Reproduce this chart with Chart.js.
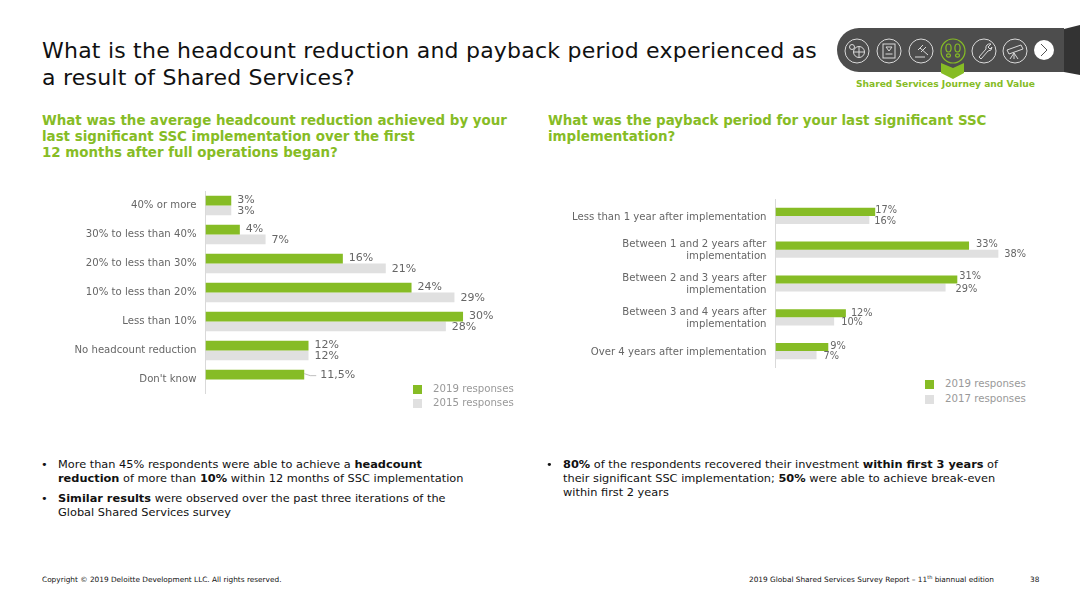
<!DOCTYPE html>
<html>
<head>
<meta charset="utf-8">
<script src="https://cdn.jsdelivr.net/npm/chart.js@4"></script>
<style>
    html, body { margin: 0; padding: 0; background: #fff; }
    body { width: 1080px; height: 608px; position: relative; overflow: hidden; font-family: "DejaVu Sans", sans-serif; color: #000; }
    .abs { position: absolute; }
    .title { left: 42px; top: 37px; font-size: 22px; line-height: 27px; letter-spacing: 0.22px; white-space: nowrap; color: #111; }
    .sub { font-size: 13.4px; line-height: 16px; font-weight: bold; color: #86BC25; white-space: nowrap; }
    .bul { font-size: 11.35px; line-height: 14px; white-space: nowrap; color: #111; }
    .bul .dot { position: absolute; left: -17px; }
    .leg { font-size: 10.2px; color: #999; white-space: nowrap; line-height: 14px; }
    .leg i { position: absolute; left: -20px; top: 3px; width: 9px; height: 9px; }
    .foot { font-size: 7.35px; line-height: 10px; white-space: nowrap; color: #111; }
    .foot sup { font-size: 5px; line-height: 0; }
</style>
</head>
<body>
<div class="abs title">What is the headcount reduction and payback period experienced as<br>a result of Shared Services?</div>

<svg class="abs" style="left:830px;top:20px" width="250" height="70" viewBox="830 20 250 70">
    <path d="M859 28 H1064 V72 H859 A22 22 0 0 1 859 28 Z" fill="#4D4D4D"/>
    <path d="M1064 29 L1080 25 V75 L1064 72 Z" fill="#333"/>
    <g fill="none" stroke="#D9D9D9" stroke-width="1">
        <circle cx="857" cy="51" r="12"/><circle cx="889" cy="51" r="12"/><circle cx="921" cy="51" r="12"/>
        <circle cx="984" cy="51" r="12"/><circle cx="1015" cy="51" r="12"/>
        <circle cx="859" cy="52" r="5.5"/><path d="M853.5 52 H864.5 M859 46.5 V57.5"/><circle cx="852" cy="47" r="2.5"/>
        <rect x="883" y="44" width="12" height="14"/><path d="M886 47 H892 L889 51 Z M885.5 54 H892.5"/>
        <path d="M915 57 H925 M918 50 L923 45 M921 52 L926 47 M920 48 L928 55"/>
        <path d="M979 57 L986 49 A4 4 0 0 1 991 44 L988 47 L990 49 L992 47 A4 4 0 0 1 988 51 L981 59 Z"/>
        <path d="M1007 50 L1021 45 L1023 49 L1009 54 Z M1014 53 L1010 59 M1014 53 L1018 59 M1014 53 V59"/>
    </g>
    <g fill="none" stroke="#86BC25" stroke-width="1.2">
        <circle cx="953" cy="51" r="12"/>
        <ellipse cx="948.5" cy="48" rx="2.6" ry="4"/><ellipse cx="957.5" cy="48" rx="2.6" ry="4"/>
        <ellipse cx="948.5" cy="55.5" rx="2" ry="1.6"/><ellipse cx="957.5" cy="55.5" rx="2" ry="1.6"/>
    </g>
    <path d="M941 63 L953 68 L964 63 V73 L953 79 L941 73 Z" fill="#86BC25"/>
    <circle cx="1044" cy="50" r="10" fill="#fff"/>
    <path d="M1041 44 L1047 50 L1041 56" fill="none" stroke="#555" stroke-width="1"/>
</svg>
<div class="abs" style="left:856px;top:79px;font-size:9.1px;line-height:11px;font-weight:bold;color:#86BC25;white-space:nowrap">Shared Services Journey and Value</div>

<div class="abs sub" style="left:42px;top:113px">What was the average headcount reduction achieved by your<br>last significant SSC implementation over the first<br>12 months after full operations began?</div>
<div class="abs sub" style="left:548px;top:113px">What was the payback period for your last significant SSC<br>implementation?</div>

<canvas id="reductionChart" class="abs" style="left:30px;top:191px;width:500px;height:203px"></canvas>
<canvas id="paybackChart" class="abs" style="left:540px;top:199px;width:500px;height:169px"></canvas>

<div class="abs leg" style="left:433px;top:382px"><i style="background:#86BC25"></i>2019 responses</div>
<div class="abs leg" style="left:433px;top:396px"><i style="background:#E0E0E0"></i>2015 responses</div>
<div class="abs leg" style="left:945px;top:377px"><i style="background:#86BC25"></i>2019 responses</div>
<div class="abs leg" style="left:945px;top:392px"><i style="background:#E0E0E0"></i>2017 responses</div>

<div class="abs bul" style="left:58px;top:457px"><span class="dot">•</span>More than 45% respondents were able to achieve a <b>headcount<br>reduction</b> of more than <b>10%</b> within 12 months of SSC implementation</div>
<div class="abs bul" style="left:58px;top:491px"><span class="dot">•</span><b>Similar results</b> were observed over the past three iterations of the<br>Global Shared Services survey</div>
<div class="abs bul" style="left:563px;top:457px"><span class="dot">•</span><b>80%</b> of the respondents recovered their investment <b>within first 3 years</b> of<br>their significant SSC implementation; <b>50%</b> were able to achieve break-even<br>within first 2 years</div>

<div class="abs foot" style="left:42px;top:575px">Copyright © 2019 Deloitte Development LLC. All rights reserved.</div>
<div class="abs foot" style="left:749px;top:575px">2019 Global Shared Services Survey Report – 11<sup>th</sup> biannual edition</div>
<div class="abs foot" style="left:1030px;top:575px">38</div>

<script>
const reductionCategories = ['40% or more', '30% to less than 40%', '20% to less than 30%', '10% to less than 20%', 'Less than 10%', 'No headcount reduction', "Don't know"];
const reduction2019 = [3, 4, 16, 24, 30, 12, 11.5];
const reduction2015 = [3, 7, 21, 29, 28, 12, null];

const paybackCategories = ['Less than 1 year after implementation', ['Between 1 and 2 years after', 'implementation'], ['Between 2 and 3 years after', 'implementation'], ['Between 3 and 4 years after', 'implementation'], 'Over 4 years after implementation'];
const payback2019 = [17, 33, 31, 12, 9];
const payback2017 = [16, 38, 29, 10, 7];

const GREEN = '#86BC25';
const GREY = '#E0E0E0';
const FONT = '"DejaVu Sans", sans-serif';

// hand placed label tweaks on the payback chart, [dx, dy] per dataset and bar
const paybackLabelNudge = [
    [[0, -1], [7, -1], [2, -3], [5, 0], [2, -1]],
    [[5, 1], [6, 1], [10, 2], [7, 1], [7, 1]]
];

// draws the value next to each bar, Don't know gets a small leader line
function barLabels(fontSize, nudge) {
    return {
        id: 'barLabels',
        afterDatasetsDraw(chart) {
            const ctx = chart.ctx;
            ctx.save();
            ctx.font = fontSize + 'px ' + FONT;
            ctx.fillStyle = '#666';
            ctx.textBaseline = 'middle';
            chart.data.datasets.forEach((ds, i) => {
                chart.getDatasetMeta(i).data.forEach((bar, j) => {
                    const value = ds.data[j];
                    if (value === null) return;
                    if (value === 11.5) {
                        ctx.strokeStyle = '#aaa';
                        ctx.lineWidth = 0.75;
                        ctx.beginPath();
                        ctx.moveTo(bar.x, bar.y - 1);
                        ctx.lineTo(bar.x + 6, bar.y + 1);
                        ctx.lineTo(bar.x + 12, bar.y + 1);
                        ctx.stroke();
                        ctx.fillText('11,5%', bar.x + 16, bar.y + 0.5);
                    } else if (nudge) {
                        ctx.fillText(value + '%', bar.x + nudge[i][j][0], bar.y + nudge[i][j][1]);
                    } else {
                        ctx.fillText(value + '%', bar.x + 6, bar.y + (i === 0 ? -1 : 1));
                    }
                });
            });
            ctx.restore();
        }
    };
}

function drawChart(id, categories, first, second, secondLabel, axisWidth, xMax, catPct, valueSize, tickShift, nudge) {
    return new Chart(document.getElementById(id), {
        type: 'bar',
        data: {
            labels: categories,
            datasets: [
                { label: '2019 responses', data: first, backgroundColor: GREEN, barPercentage: 1, categoryPercentage: catPct },
                { label: secondLabel, data: second, backgroundColor: GREY, barPercentage: 1, categoryPercentage: catPct }
            ]
        },
        options: {
            indexAxis: 'y',
            responsive: false,
            animation: false,
            layout: { padding: 0 },
            plugins: { legend: { display: false }, tooltip: { enabled: false } },
            scales: {
                x: { display: false, min: 0, max: xMax },
                y: {
                    afterFit(scale) {
                        scale.width = axisWidth;
                        scale.paddingTop = 0;
                        scale.paddingBottom = 0;
                    },
                    grid: { display: false, drawTicks: false },
                    border: { color: '#D9D9D9' },
                    ticks: { color: '#666', padding: 9, autoSkip: false, labelOffset: tickShift, font: { family: FONT, size: 10.15 } }
                }
            }
        },
        plugins: [barLabels(valueSize, nudge)]
    });
}

function sizeCanvas(id, w, h) {
    const c = document.getElementById(id);
    c.width = w;
    c.height = h;
}

sizeCanvas('reductionChart', 500, 203);
sizeCanvas('paybackChart', 500, 169);
drawChart('reductionChart', reductionCategories, reduction2019, reduction2015, '2015 responses', 175.5, 37.8, 0.67, 11, 0);
drawChart('paybackChart', paybackCategories, payback2019, payback2017, '2017 responses', 235.5, 45.1, 0.48, 9.8, 1, paybackLabelNudge);
</script>
</body>
</html>
